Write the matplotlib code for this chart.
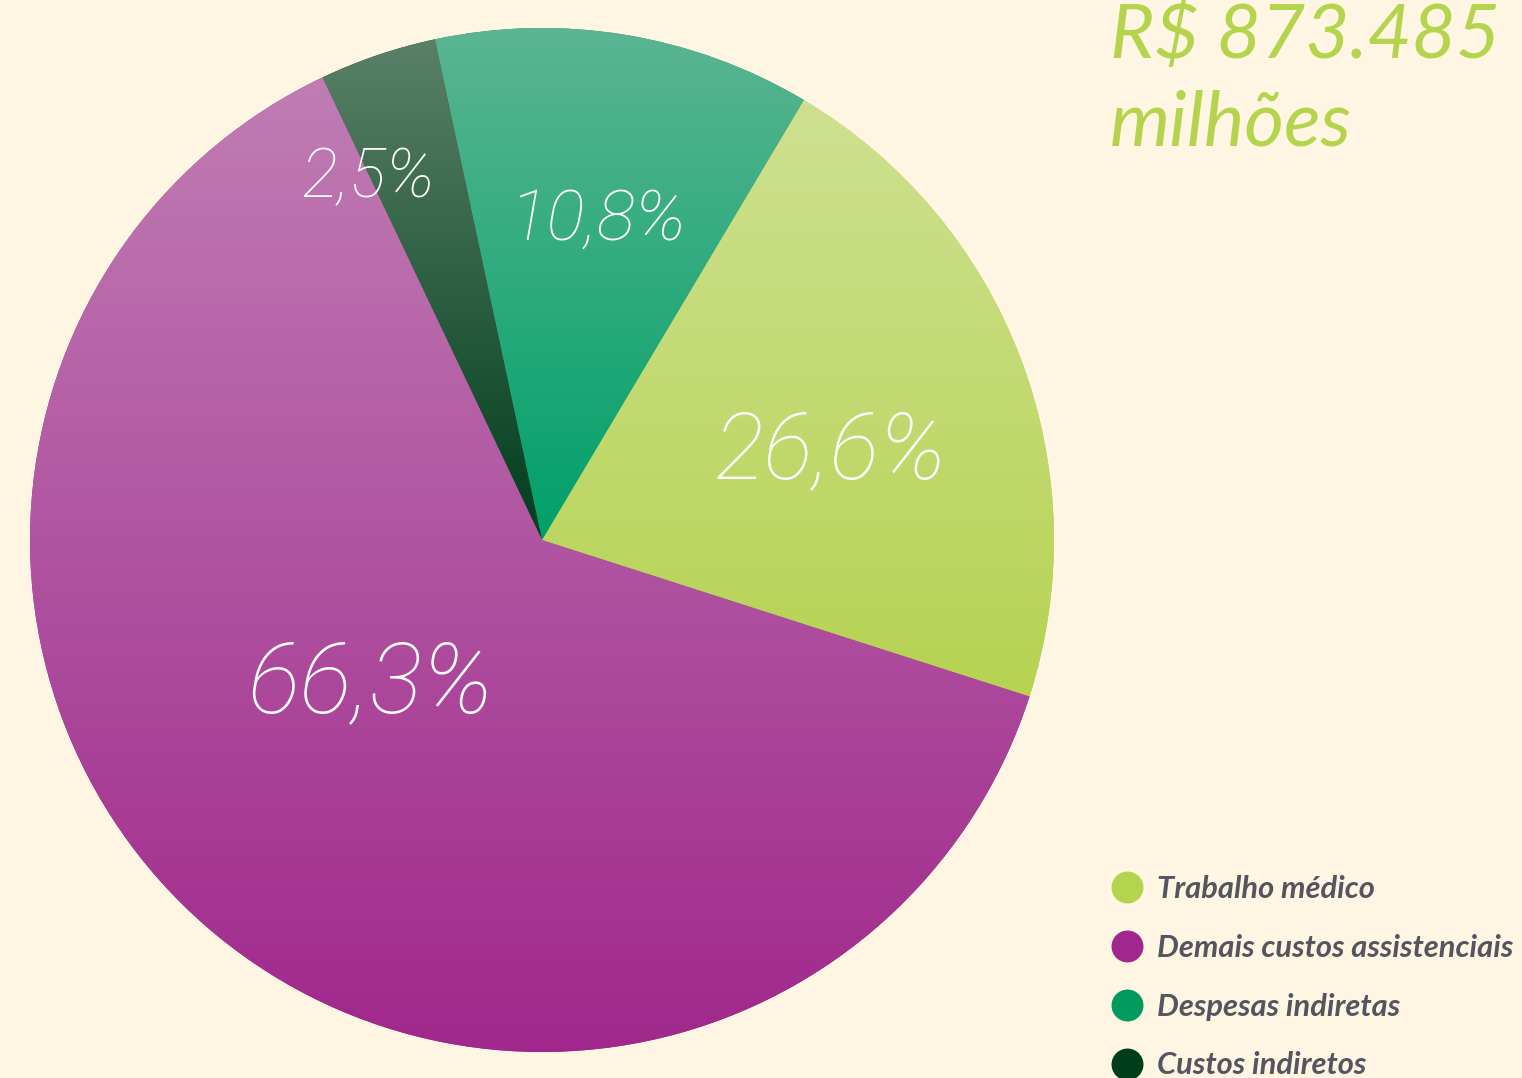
import matplotlib
matplotlib.use("Agg")
import matplotlib.pyplot as plt
import numpy as np
from matplotlib.colors import to_rgb
from matplotlib.lines import Line2D

# slice shares as drawn in the picture, counter-clockwise from the right
categories = ["Trabalho médico", "Despesas indiretas", "Custos indiretos",
              "Demais custos assistenciais"]
shares = [21.4, 11.9, 3.7, 63.0]
pct_labels = ["26,6%", "10,8%", "2,5%", "66,3%"]
legend_order = ["Trabalho médico", "Demais custos assistenciais",
                "Despesas indiretas", "Custos indiretos"]
total_lines = ["R$ 873.485", "milhões"]

BG = "#fef6e2"
solid = {
    "Trabalho médico": "#b5d44e",
    "Demais custos assistenciais": "#a0278b",
    "Despesas indiretas": "#009a5e",
    "Custos indiretos": "#003d1a",
}
# (top colour, bottom colour) of the vertical gradient on each slice
grads = {
    "Trabalho médico": ("#cee090", "#b6d352"),
    "Demais custos assistenciais": ("#c07db4", "#a0288c"),
    "Despesas indiretas": ("#5bb592", "#00a06a"),
    "Custos indiretos": ("#5a8068", "#003d1c"),
}
# label x centre, baseline (from top) and size
label_pos = [(831, 478, 67), (598, 240, 51), (368, 197, 49), (371, 712, 71)]

W, H = 1522, 1078
fig = plt.figure(figsize=(W / 100, H / 100), dpi=100, facecolor=BG)
ax = fig.add_axes([0, 0, 1, 1])
ax.set_facecolor(BG)

cx, cy, r = 542, H - 540, 512
wedges, _ = ax.pie(shares, startangle=-17.8, counterclock=True,
                   center=(cx, cy), radius=r,
                   colors=[solid[c] for c in categories],
                   wedgeprops=dict(linewidth=0))

for w, cat in zip(wedges, categories):
    top, bot = grads[cat]
    ext = w.get_path().get_extents()
    t = np.linspace(0, 1, 256)[:, None]
    cols = (1 - t) * np.array(to_rgb(bot)) + t * np.array(to_rgb(top))
    img = np.repeat(cols[:, None, :], 2, axis=1)
    im = ax.imshow(img, extent=[ext.x0, ext.x1, ext.y0, ext.y1],
                   origin="lower", aspect="auto", zorder=2,
                   interpolation="bilinear")
    im.set_clip_path(w)

for txt, (x, y, fs) in zip(pct_labels, label_pos):
    ax.text(x, H - y, txt, color="white", fontsize=fs, fontfamily="Roboto",
            fontweight="light", fontstyle="italic", ha="center",
            va="baseline", zorder=5)

for line, base in zip(total_lines, [58, 145]):
    ax.text(1110, H - base, line, color="#b5d44e", fontsize=55,
            fontfamily="Lato", fontweight="normal", fontstyle="italic",
            ha="left", va="baseline", zorder=5)

handles = [Line2D([], [], marker="o", linestyle="none", markersize=23,
                  markerfacecolor=solid[c], markeredgewidth=0)
           for c in legend_order]
leg = ax.legend(handles, legend_order, loc="upper left",
                bbox_to_anchor=(1105 / W, 1 - 875 / H), frameon=False,
                handlelength=1.4, handletextpad=0.29, labelspacing=1.0,
                borderpad=0, borderaxespad=0,
                prop=dict(family="Lato", weight="bold", style="italic",
                          size=22.2))
for t in leg.get_texts():
    t.set_color("#555560")

ax.set_xlim(0, W)
ax.set_ylim(0, H)
ax.set_axis_off()

fig.savefig("out.png", dpi=100, facecolor=BG)
